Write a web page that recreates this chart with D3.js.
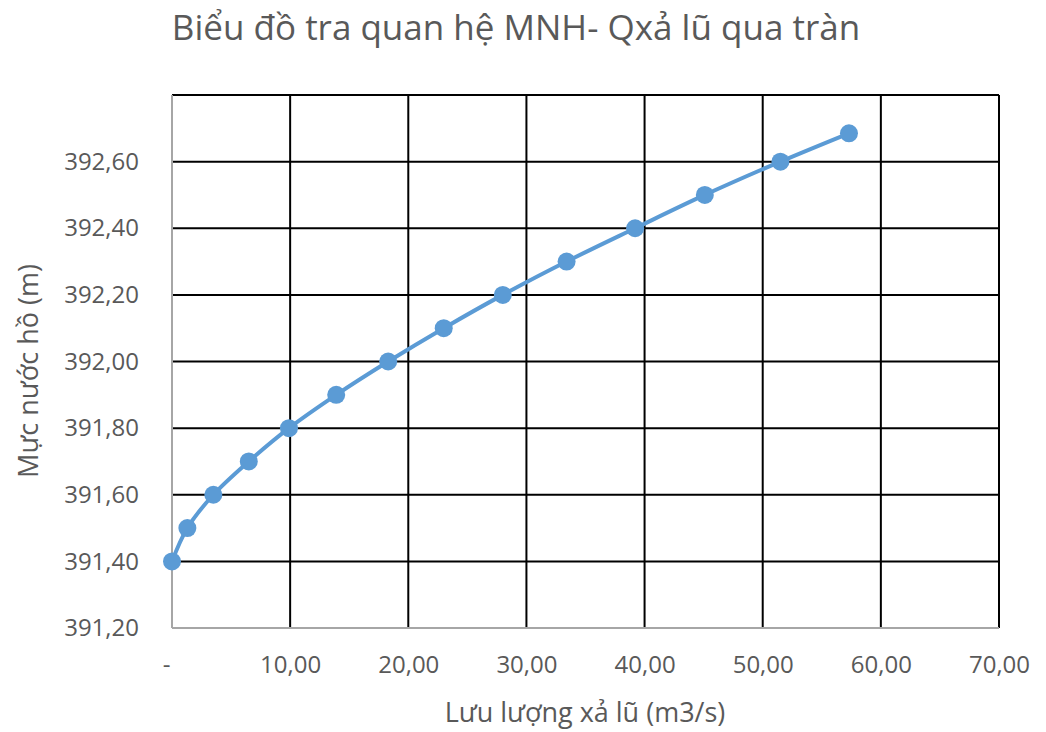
<!DOCTYPE html>
<html><head><meta charset="utf-8">
<script src="https://cdn.jsdelivr.net/npm/d3@7"></script>
<style>body{margin:0;background:#fff;} text{font-family:"Open Sans","Noto Sans",sans-serif;fill:#595959;}</style>
</head><body>
<svg id="c" width="1046" height="732"></svg>
<script>
const flowQ = [0, 1.3, 3.5, 6.5, 9.9, 13.9, 18.3, 23.0, 28.0, 33.4, 39.2, 45.1, 51.5, 57.3];
const levelZ = [391.40, 391.50, 391.60, 391.70, 391.80, 391.90, 392.00, 392.10, 392.20, 392.30, 392.40, 392.50, 392.60, 392.685];
const xTicks = [0, 10, 20, 30, 40, 50, 60, 70];
const yTicks = [391.20, 391.40, 391.60, 391.80, 392.00, 392.20, 392.40, 392.60];
const yMax = 392.80;
const title = "Biểu đồ tra quan hệ MNH- Qxả lũ qua tràn";
const xTitle = "Lưu lượng xả lũ (m3/s)";
const yTitle = "Mực nước hồ (m)";

const svg = d3.select("#c");
const L = 172, R = 999, T = 95, B = 628;
const x = d3.scaleLinear().domain([0, 70]).range([L, R]);
const y = d3.scaleLinear().domain([391.20, yMax]).range([B, T]);
const fmt = v => v === 0 ? "-" : v.toFixed(2).replace(".", ",");

// gridlines
svg.append("g").selectAll("line").data(yTicks.slice(1).concat([yMax])).join("line")
  .attr("x1", L).attr("x2", R).attr("y1", d => y(d)).attr("y2", d => y(d))
  .attr("stroke", "#000").attr("stroke-width", 2);
svg.append("g").selectAll("line").data(xTicks.slice(1)).join("line")
  .attr("x1", d => x(d)).attr("x2", d => x(d)).attr("y1", T).attr("y2", B)
  .attr("stroke", "#000").attr("stroke-width", 2);
// axes lines (gray)
svg.append("line").attr("x1", L).attr("x2", L).attr("y1", T).attr("y2", B).attr("stroke", "#a6a6a6").attr("stroke-width", 2);
svg.append("line").attr("x1", L).attr("x2", R).attr("y1", B).attr("y2", B).attr("stroke", "#a6a6a6").attr("stroke-width", 2);

// tick labels
const xa = d3.axisBottom(x).tickValues(xTicks).tickFormat(fmt).tickSize(0).tickPadding(28);
const gx = svg.append("g").attr("transform", `translate(0,${B})`).call(xa);
gx.select(".domain").remove();
gx.selectAll("text").style("font-size", "24px").attr("fill", "#595959").style("font-family", '"Open Sans",sans-serif');
gx.selectAll(".tick").filter(d => d === 0).select("text").attr("dx", -6);

const ya = d3.axisLeft(y).tickValues(yTicks).tickFormat(fmt).tickSize(0).tickPadding(33);
const gy = svg.append("g").attr("transform", `translate(${L},0)`).call(ya);
gy.select(".domain").remove();
gy.selectAll("text").style("font-size", "24px").attr("fill", "#595959").style("font-family", '"Open Sans",sans-serif');

// line
const pts = flowQ.map((q, i) => [q, levelZ[i]]);
svg.append("path").datum(pts)
  .attr("d", d3.line().x(d => x(d[0])).y(d => y(d[1])).curve(d3.curveCatmullRom.alpha(0.5)))
  .attr("fill", "none").attr("stroke", "#5b9bd5").attr("stroke-width", 4);
svg.append("g").selectAll("circle").data(pts).join("circle")
  .attr("cx", d => x(d[0])).attr("cy", d => y(d[1])).attr("r", 9).attr("fill", "#5b9bd5");

// titles
svg.append("text").attr("x", 516).attr("y", 40).attr("text-anchor", "middle")
  .style("font-size", "35px").text(title);
svg.append("text").attr("x", 585).attr("y", 722).attr("text-anchor", "middle")
  .style("font-size", "27px").text(xTitle);
svg.append("text").attr("transform", "translate(38,371) rotate(-90)").attr("text-anchor", "middle")
  .style("font-size", "27px").text(yTitle);
</script>
</body></html>
